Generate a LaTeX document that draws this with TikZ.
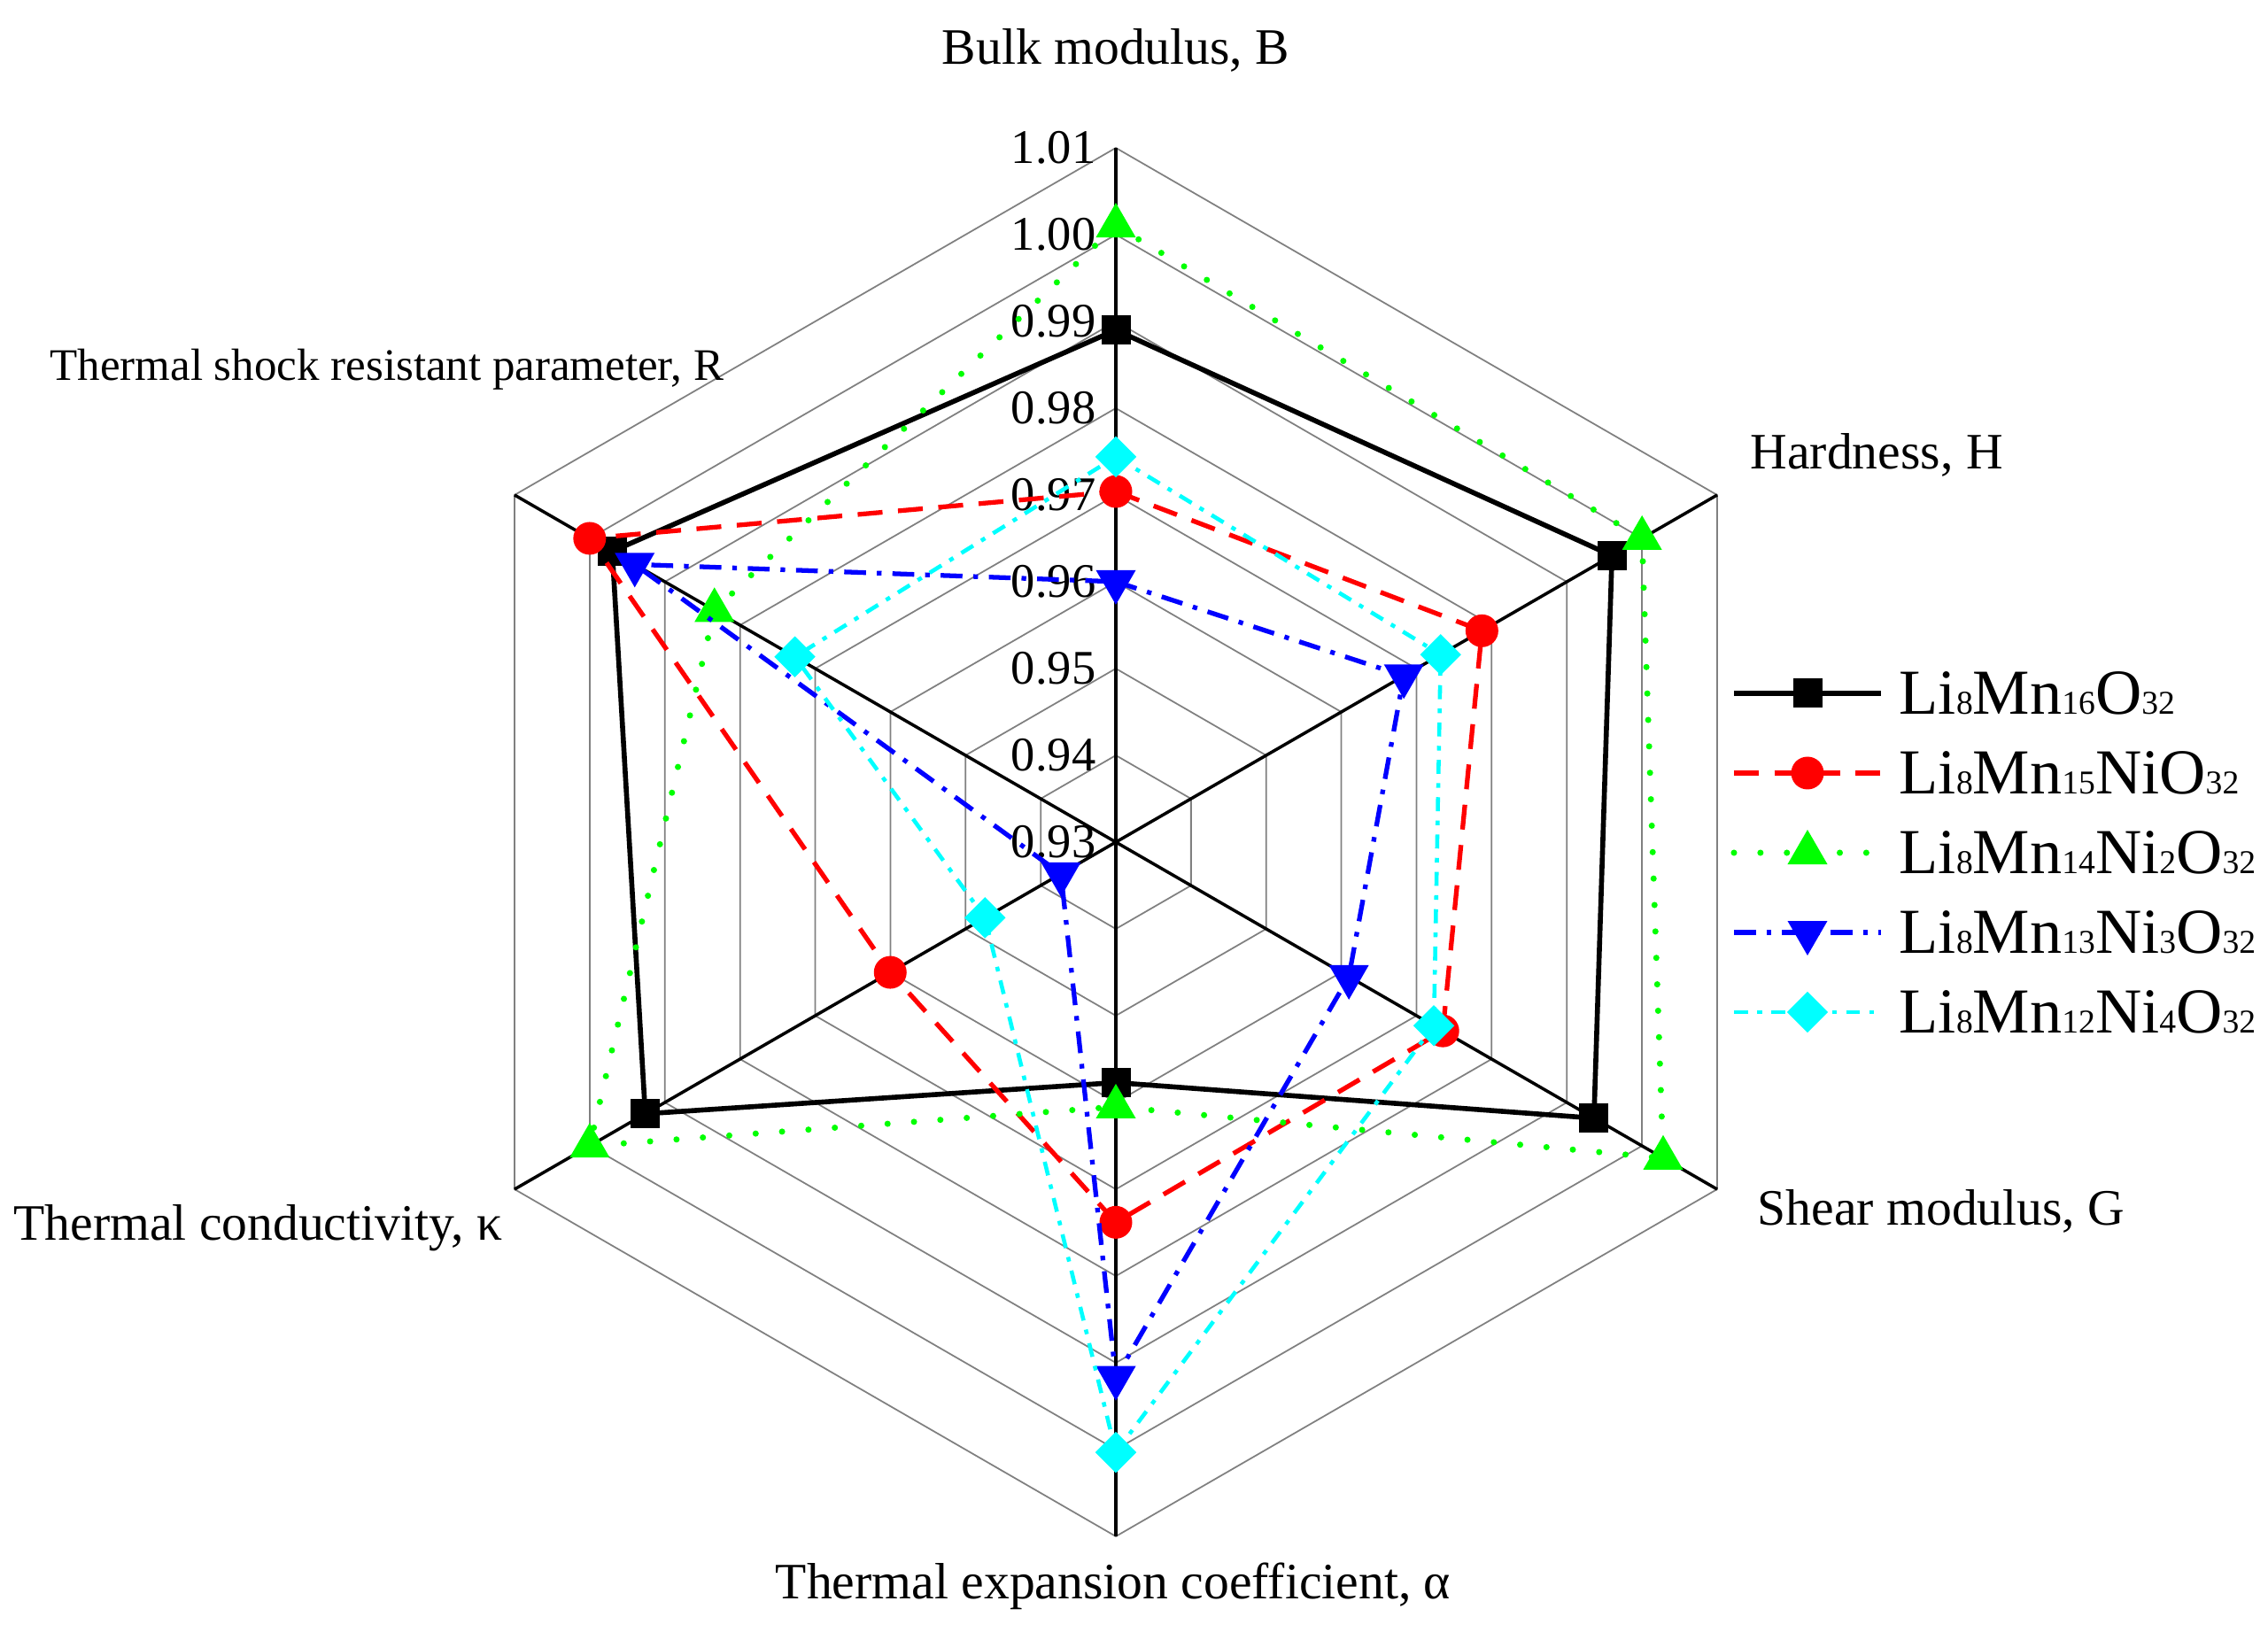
\documentclass[tikz,border=0pt]{standalone}
\usepackage{fontspec}
\setmainfont{Liberation Serif}
\usetikzlibrary{shapes.geometric}

\definecolor{aqua}{RGB}{0,255,255}
\definecolor{lime}{RGB}{0,255,0}
\newcommand{\ssub}[1]{{\fontsize{10.7}{12}\selectfont #1}}

\begin{document}
\begin{tikzpicture}[
    web/.style={black!50, line width=0.5pt},
    ax/.style={black, line width=1pt},
    lab/.style={inner sep=0, font=\fontsize{16.4}{19}\selectfont},
    tick/.style={anchor=east, inner sep=0, font=\fontsize{15.5}{18}\selectfont},
    blk/.style={black, line width=1.6pt},
    rd/.style={red, line width=1.5pt, dash pattern=on 8pt off 5pt},
    gr/.style={lime, line width=2pt, line cap=round, dash pattern=on 0pt off 8.5pt},
    bl/.style={blue, line width=1.5pt, dash pattern=on 7pt off 3.5pt on 1.5pt off 3.5pt},
    cy/.style={aqua, line width=1.3pt, dash pattern=on 4.5pt off 3pt on 1.5pt off 3pt},
    sqmark/.style={rectangle, fill=black, minimum size=0.33cm, inner sep=0},
    dotmark/.style={circle, fill=red, minimum size=0.37cm, inner sep=0},
    upmark/.style={regular polygon, regular polygon sides=3, fill=lime, minimum size=0.52cm, inner sep=0},
    downmark/.style={regular polygon, regular polygon sides=3, shape border rotate=180, fill=blue, minimum size=0.52cm, inner sep=0},
    dimark/.style={diamond, fill=aqua, minimum size=0.47cm, inner sep=0}
  ]
  \useasboundingbox (-12.60,-8.91) rectangle (13.01,9.51);

  % web and axes
  \foreach \k in {1,...,8}
    \draw[web] (90:0.98*\k) -- (30:0.98*\k) -- (-30:0.98*\k) -- (-90:0.98*\k) -- (210:0.98*\k) -- (150:0.98*\k) -- cycle;
  \foreach \a in {90,30,-30,-90,210,150}
    \draw[ax] (0,0) -- (\a:7.84);

  \foreach \k/\t in {0/0.93,1/0.94,2/0.95,3/0.96,4/0.97,5/0.98,6/0.99,7/1.00,8/1.01}
    \node[tick] (t\k) at (-0.22,{0.98*\k}) {\t};

  % axis names
  \node[lab] (B) at (0,8.94) {Bulk modulus, B};
  \node[lab, anchor=west] (H) at (7.16,4.37) {Hardness, H};
  \node[lab, anchor=west] (G) at (7.24,-4.17) {Shear modulus, G};
  \node[lab] (A) at (-0.03,-8.40) {Thermal expansion coefficient, α};
  \node[lab, anchor=east] (K) at (-6.92,-4.36) {Thermal conductivity, κ};
  \node[lab, anchor=east, font=\fontsize{14.5}{17}\selectfont] (R) at (-4.42,5.34) {Thermal shock resistant parameter, R};

  % series: B, H, G, alpha, kappa, R
  \foreach \ln/\mk/\vB/\vH/\vG/\vA/\vK/\vR in {
      blk/sqmark/0.989/0.996/0.9936/0.9577/0.9926/0.997,
      rd/dotmark/0.9704/0.9787/0.9735/0.9738/0.960/1.000,
      gr/upmark/1.001/1.000/1.0028/0.9605/1.000/0.9834,
      bl/downmark/0.960/0.9683/0.961/0.9917/0.9373/0.994,
      cy/dimark/0.9744/0.9732/0.9723/1.0003/0.9474/0.9727}
  {
    \draw[\ln] (90:{(\vB-0.93)*98}) -- (30:{(\vH-0.93)*98}) -- (-30:{(\vG-0.93)*98})
      -- (-90:{(\vA-0.93)*98}) -- (210:{(\vK-0.93)*98}) -- (150:{(\vR-0.93)*98}) -- cycle;
    \foreach \a/\v in {90/\vB,30/\vH,-30/\vG,-90/\vA,210/\vK,150/\vR}
      \node[\mk] at (\a:{(\v-0.93)*98}) {};
  }

  % legend
  \foreach \y/\ln/\mk/\txt [count=\i] in {
      1.68/blk/sqmark/{Li\ssub{8}Mn\ssub{16}O\ssub{32}},
      0.78/rd/dotmark/{Li\ssub{8}Mn\ssub{15}NiO\ssub{32}},
      -0.12/gr/upmark/{Li\ssub{8}Mn\ssub{14}Ni\ssub{2}O\ssub{32}},
      -1.02/bl/downmark/{Li\ssub{8}Mn\ssub{13}Ni\ssub{3}O\ssub{32}},
      -1.92/cy/dimark/{Li\ssub{8}Mn\ssub{12}Ni\ssub{4}O\ssub{32}}}
  {
    \draw[\ln] (6.98,\y) -- (8.64,\y);
    \node[\mk] (m\i) at (7.81,\y) {};
    \node[anchor=west, inner sep=0, font=\fontsize{20.6}{24}\selectfont] (l\i) at (8.84,\y) {\txt};
  }
\end{tikzpicture}
\end{document}
